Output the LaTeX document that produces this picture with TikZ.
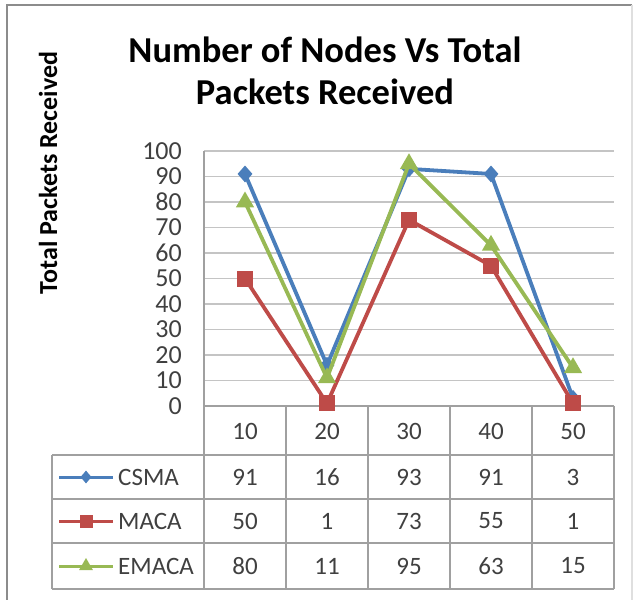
\documentclass[tikz,border=0pt]{standalone}
\usepackage{fontspec}
\setmainfont{Carlito}
\usetikzlibrary{shapes.geometric}
\definecolor{csma}{HTML}{4A7EBB}
\definecolor{maca}{HTML}{BE4B48}
\definecolor{emaca}{HTML}{98B954}
\definecolor{gridc}{HTML}{C4C4C4}
\definecolor{tabc}{HTML}{A0A0A0}
\definecolor{labc}{HTML}{404040}
\definecolor{framec}{HTML}{8C8C8C}
\tikzset{
  gridline/.style={draw=gridc, line width=1.6pt},
  tabline/.style={draw=tabc, line width=1.1pt},
  ticklab/.style={font=\fontsize{26}{26}\selectfont, text=labc, anchor=east, inner sep=0pt},
  cell/.style={font=\fontsize{25}{25}\selectfont, text=labc, inner sep=0pt},
  legname/.style={font=\fontsize{25}{25}\selectfont, text=labc, inner sep=0pt, anchor=west},
  titletext/.style={font=\bfseries\fontsize{36.5}{42}\selectfont, anchor=base, inner sep=0pt},
  series/.style={line width=3.8pt, line join=round},
  dmark/.style={diamond, fill=csma, inner sep=0pt, minimum width=15pt, minimum height=17pt},
  smark/.style={rectangle, fill=maca, inner sep=0pt, minimum size=16pt},
  tmark/.style={regular polygon, regular polygon sides=3, fill=emaca, inner sep=0pt, minimum size=21pt},
  sdmark/.style={dmark, minimum width=11pt, minimum height=13pt},
  ssmark/.style={smark, minimum size=13pt},
  stmark/.style={tmark, minimum size=16pt},
}
\begin{document}
\begin{tikzpicture}[x=1pt,y=-1pt]
\useasboundingbox (0,0) rectangle (636,599);

% outer chart frame
\draw[draw=framec, line width=2pt] (632,5) -- (7,5) -- (7,612);
\draw[draw=gray!25, line width=1.5pt] (632,5) -- (632,612);

% titles
\node[titletext] (title1) at (325,63) {Number of Nodes Vs Total};
\node[titletext] (title2) at (325,105) {Packets Received};
\node[rotate=90, font=\bfseries\fontsize{26}{26}\selectfont] (ytitle) at (48,173)
  {Total Packets Received};

% horizontal grid and value labels
\foreach \v in {10,20,...,100}
  \draw[gridline] (204,{406-2.55*\v}) -- (614,{406-2.55*\v});
\foreach \v in {0,10,...,100}
  \node[ticklab] (tick\v) at (182,{406-2.55*\v}) {\v};

% axes and data table
\draw[tabline] (204,151) -- (204,589);
\draw[tabline] (204,406) -- (614,406);
\foreach \x in {286,368,450,532,614}
  \draw[tabline] (\x,406) -- (\x,589);
\foreach \y in {455,499,543,589}
  \draw[tabline] (52,\y) -- (614,\y);
\draw[tabline] (52,455) -- (52,589);

% category header
\foreach \c [count=\i] in {10,20,30,40,50}
  \node[cell] (cat\i) at ({163+82*\i},431) {\c};

% table values
\foreach \val [count=\i] in {91,16,93,91,3}
  \node[cell] (vc\i) at ({163+82*\i},477) {\val};
\foreach \val [count=\i] in {50,1,73,55,1}
  \node[cell] (vm\i) at ({163+82*\i},521) {\val};
\foreach \val [count=\i] in {80,11,95,63,15}
  \node[cell] (ve\i) at ({163+82*\i},566) {\val};

% legend keys
\coordinate (lc0) at (59,477); \coordinate (lc1) at (113,477);
\coordinate (lm0) at (59,521); \coordinate (lm1) at (113,521);
\coordinate (le0) at (59,566); \coordinate (le1) at (113,566);
\draw[csma, line width=3pt] (lc0) -- (lc1);
\node[sdmark] (kc) at (86,477) {};
\draw[maca, line width=3pt] (lm0) -- (lm1);
\node[ssmark] (km) at (86,521) {};
\draw[emaca, line width=3pt] (le0) -- (le1);
\node[stmark] (ke) at (86,566) {};
\node[legname] (nc) at (118,477) {CSMA};
\node[legname] (nm) at (118,521) {MACA};
\node[legname] (ne) at (118,566) {EMACA};

% data points
\foreach \val [count=\i] in {91,16,93,91,3}
  \coordinate (c\i) at ({163+82*\i},{406-2.55*\val});
\foreach \val [count=\i] in {50,1,73,55,1}
  \coordinate (m\i) at ({163+82*\i},{406-2.55*\val});
\foreach \val [count=\i] in {80,11,95,63,15}
  \coordinate (e\i) at ({163+82*\i},{406-2.55*\val});

% series CSMA
\draw[series, csma] (c1) -- (c2) -- (c3) -- (c4) -- (c5);
\foreach \i in {1,...,5} \node[dmark] (dc\i) at (c\i) {};
% series MACA
\draw[series, maca] (m1) -- (m2) -- (m3) -- (m4) -- (m5);
\foreach \i in {1,...,5} \node[smark] (dm\i) at (m\i) {};
% series EMACA
\draw[series, emaca] (e1) -- (e2) -- (e3) -- (e4) -- (e5);
\foreach \i in {1,...,5} \node[tmark] (de\i) at (e\i) {};
\end{tikzpicture}
\end{document}
